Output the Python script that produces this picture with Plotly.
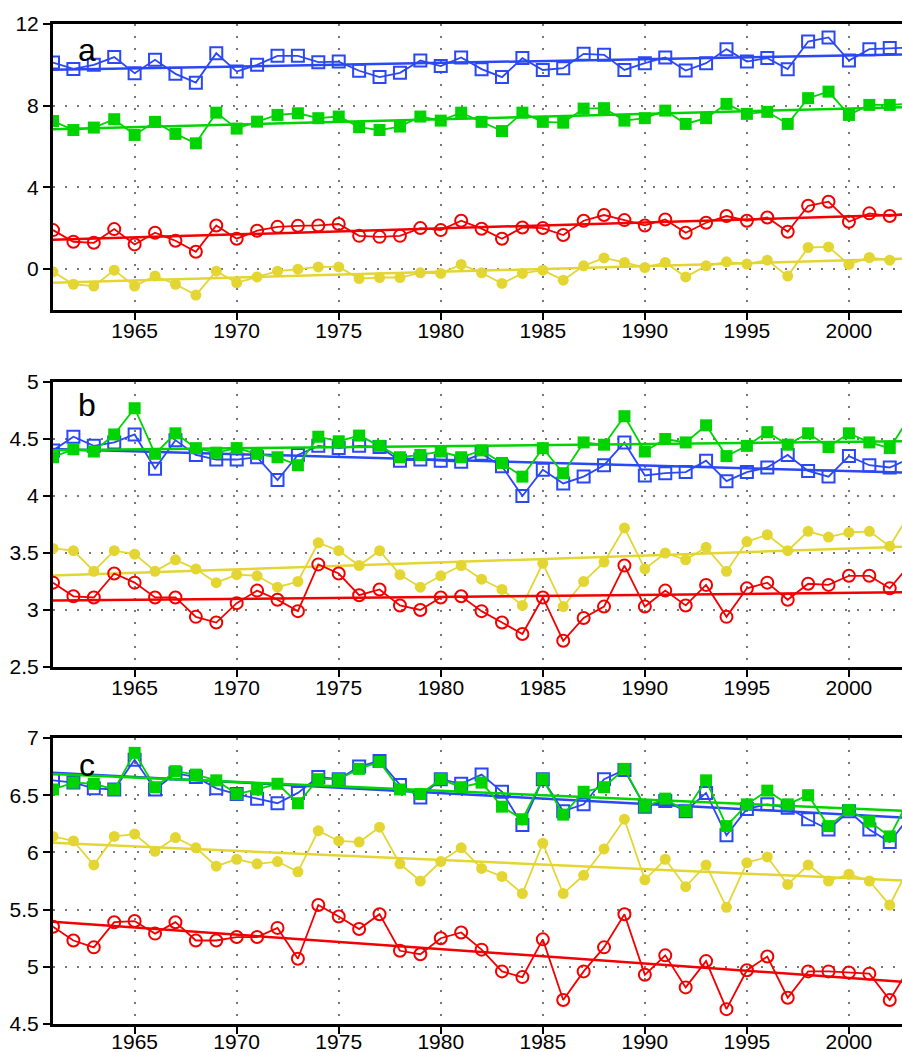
import numpy as np
import plotly.graph_objects as go

years = list(range(1961, 2004))

# Panel a
a_blue = [10.11, 9.80, 10.00, 10.38, 9.59, 10.25, 9.56, 9.13, 10.57, 9.67,
          10.00, 10.44, 10.44, 10.13, 10.16, 9.71, 9.40, 9.61, 10.21, 9.94,
          10.36, 9.79, 9.40, 10.33, 9.75, 9.84, 10.54, 10.49, 9.75, 10.08,
          10.36, 9.72, 10.08, 10.77, 10.16, 10.33, 9.79, 11.14, 11.34, 10.21,
          10.77, 10.82, 10.85]
a_green = [7.25, 6.81, 6.93, 7.34, 6.57, 7.21, 6.62, 6.16, 7.66, 6.88,
           7.22, 7.55, 7.63, 7.39, 7.47, 6.95, 6.81, 6.98, 7.47, 7.27,
           7.66, 7.21, 6.76, 7.66, 7.21, 7.17, 7.86, 7.88, 7.27, 7.39,
           7.76, 7.11, 7.39, 8.09, 7.60, 7.70, 7.11, 8.37, 8.69, 7.55,
           8.04, 8.04, 8.10]
a_red = [1.91, 1.34, 1.29, 1.96, 1.21, 1.78, 1.39, 0.85, 2.14, 1.49,
         1.88, 2.07, 2.12, 2.14, 2.21, 1.63, 1.58, 1.63, 2.01, 1.91,
         2.37, 1.98, 1.49, 2.04, 2.01, 1.67, 2.37, 2.65, 2.40, 2.14,
         2.43, 1.78, 2.27, 2.60, 2.37, 2.53, 1.83, 3.10, 3.30, 2.32,
         2.73, 2.60, 2.75]
a_yellow = [-0.13, -0.74, -0.83, -0.05, -0.83, -0.33, -0.74, -1.27, -0.10, -0.67,
            -0.38, -0.10, 0.00, 0.11, 0.11, -0.46, -0.41, -0.41, -0.18, -0.21,
            0.23, -0.18, -0.70, -0.21, -0.05, -0.54, 0.16, 0.55, 0.33, 0.08,
            0.33, -0.38, 0.16, 0.36, 0.25, 0.44, -0.34, 1.06, 1.09, 0.23,
            0.57, 0.44, 0.54]

# Panel b
b_blue = [4.40, 4.52, 4.44, 4.47, 4.54, 4.24, 4.49, 4.36, 4.32, 4.32,
          4.34, 4.14, 4.36, 4.44, 4.42, 4.44, 4.43, 4.31, 4.32, 4.31,
          4.30, 4.37, 4.26, 4.00, 4.23, 4.11, 4.17, 4.27, 4.47, 4.18,
          4.20, 4.21, 4.31, 4.13, 4.21, 4.25, 4.36, 4.22, 4.17, 4.35,
          4.27, 4.25, 4.33]
b_green = [4.34, 4.41, 4.39, 4.54, 4.77, 4.37, 4.55, 4.42, 4.38, 4.42,
           4.37, 4.34, 4.27, 4.52, 4.48, 4.53, 4.44, 4.34, 4.36, 4.39,
           4.34, 4.40, 4.29, 4.17, 4.42, 4.20, 4.47, 4.45, 4.70, 4.39,
           4.50, 4.47, 4.62, 4.35, 4.44, 4.56, 4.45, 4.55, 4.43, 4.55,
           4.47, 4.42, 4.70]
b_red = [3.24, 3.12, 3.11, 3.32, 3.24, 3.11, 3.11, 2.94, 2.89, 3.06,
         3.17, 3.09, 2.99, 3.40, 3.32, 3.13, 3.18, 3.04, 3.00, 3.11,
         3.12, 2.99, 2.89, 2.79, 3.11, 2.73, 2.93, 3.03, 3.39, 3.03,
         3.17, 3.04, 3.22, 2.94, 3.19, 3.24, 3.09, 3.23, 3.22, 3.30,
         3.30, 3.19, 3.40]
b_yellow = [3.54, 3.52, 3.34, 3.52, 3.49, 3.34, 3.44, 3.36, 3.24, 3.31,
            3.30, 3.20, 3.25, 3.59, 3.52, 3.39, 3.52, 3.31, 3.20, 3.30,
            3.39, 3.27, 3.18, 3.04, 3.41, 3.03, 3.25, 3.42, 3.72, 3.36,
            3.50, 3.44, 3.55, 3.34, 3.60, 3.66, 3.52, 3.69, 3.64, 3.68,
            3.69, 3.56, 3.85]

# Panel c
c_blue = [6.63, 6.61, 6.56, 6.55, 6.81, 6.55, 6.69, 6.66, 6.56, 6.51,
          6.47, 6.43, 6.52, 6.66, 6.64, 6.75, 6.80, 6.59, 6.48, 6.64,
          6.60, 6.68, 6.53, 6.24, 6.64, 6.36, 6.42, 6.64, 6.72, 6.40,
          6.45, 6.36, 6.52, 6.15, 6.38, 6.42, 6.39, 6.29, 6.20, 6.36,
          6.20, 6.09, 6.32]
c_green = [6.55, 6.61, 6.60, 6.55, 6.87, 6.57, 6.71, 6.68, 6.63, 6.51,
           6.55, 6.60, 6.43, 6.64, 6.64, 6.73, 6.79, 6.55, 6.51, 6.64,
           6.57, 6.61, 6.40, 6.29, 6.64, 6.33, 6.53, 6.57, 6.73, 6.40,
           6.47, 6.36, 6.63, 6.23, 6.42, 6.54, 6.42, 6.50, 6.23, 6.37,
           6.27, 6.14, 6.48]
c_red = [5.35, 5.23, 5.17, 5.39, 5.40, 5.29, 5.39, 5.23, 5.23, 5.26,
         5.26, 5.34, 5.07, 5.54, 5.44, 5.33, 5.46, 5.14, 5.11, 5.25,
         5.30, 5.15, 4.96, 4.91, 5.24, 4.71, 4.96, 5.17, 5.46, 4.93,
         5.10, 4.82, 5.05, 4.63, 4.97, 5.09, 4.73, 4.96, 4.96, 4.95,
         4.94, 4.71, 5.00]
c_yellow = [6.14, 6.10, 5.89, 6.14, 6.16, 6.01, 6.13, 6.04, 5.88, 5.94,
            5.90, 5.92, 5.83, 6.19, 6.10, 6.09, 6.22, 5.90, 5.75, 5.92,
            6.04, 5.86, 5.79, 5.64, 6.08, 5.64, 5.80, 6.03, 6.29, 5.76,
            5.94, 5.70, 5.89, 5.52, 5.91, 5.96, 5.72, 5.89, 5.75, 5.81,
            5.75, 5.54, 5.89]

panel_labels = ["a", "b", "c"]
y_ranges = [[-2, 12], [2.5, 5], [4.5, 7]]
y_dticks = [4, 0.5, 0.5]
x_range = [1961, 2002.6]
x_ticks = [1965, 1970, 1975, 1980, 1985, 1990, 1995, 2000]

BLUE = "rgb(42,72,245)"
GREEN = "rgb(0,212,0)"
RED = "rgb(242,0,0)"
YELLOW = "rgb(228,214,50)"

W, H = 902, 1052
left_px = 53
panel_px = [(24, 310), (382, 667), (738, 1024)]
label_standoff = [-7, -7, -10]

panels = [
    [(a_yellow, YELLOW, "circle", 11, None), (a_red, RED, "circle-open", 12, 2),
     (a_blue, BLUE, "square-open", 12, 2), (a_green, GREEN, "square", 12, None)],
    [(b_yellow, YELLOW, "circle", 11, None), (b_red, RED, "circle-open", 12, 2),
     (b_blue, BLUE, "square-open", 12, 2), (b_green, GREEN, "square", 12, None)],
    [(c_yellow, YELLOW, "circle", 11, None), (c_red, RED, "circle-open", 12, 2),
     (c_blue, BLUE, "square-open", 12, 2), (c_green, GREEN, "square", 12, None)],
]

fig = go.Figure()
font = dict(family="Liberation Sans, Arial, sans-serif", size=21, color="black")
yrs = np.array(years, dtype=float)

for i, series in enumerate(panels):
    xa = "x" if i == 0 else f"x{i+1}"
    ya = "y" if i == 0 else f"y{i+1}"
    for vals, col, sym, size, lw in series:
        v = np.array(vals, dtype=float)
        k, b0 = np.polyfit(yrs, v, 1)
        tx = [years[0], years[-1]]
        fig.add_trace(go.Scatter(
            x=tx, y=[k * t + b0 for t in tx], mode="lines",
            line=dict(color=col, width=2.5), xaxis=xa, yaxis=ya,
            showlegend=False, hoverinfo="skip"))
        mk = dict(symbol=sym, size=size, color=col)
        if lw:
            mk["line"] = dict(color=col, width=lw)
        fig.add_trace(go.Scatter(
            x=years, y=vals, mode="lines+markers",
            line=dict(color=col, width=1.8), marker=mk,
            xaxis=xa, yaxis=ya, showlegend=False))

layout = dict(
    width=W, height=H,
    margin=dict(l=0, r=0, t=0, b=0, autoexpand=False),
    paper_bgcolor="white", plot_bgcolor="white", showlegend=False,
    font=font,
)
annotations = []
for i in range(3):
    top, bot = panel_px[i]
    xk = "xaxis" if i == 0 else f"xaxis{i+1}"
    yk = "yaxis" if i == 0 else f"yaxis{i+1}"
    ya = "y" if i == 0 else f"y{i+1}"
    xa = "x" if i == 0 else f"x{i+1}"
    layout[xk] = dict(
        domain=[left_px / W, 1.0], range=x_range, anchor=ya,
        tickmode="array", tickvals=x_ticks, ticks="outside", ticklen=7,
        tickwidth=1.5, tickcolor="black", ticklabelstandoff=label_standoff[i],
        showline=True, linecolor="black", linewidth=3, mirror=True,
        showgrid=True, gridcolor="rgb(120,120,120)", gridwidth=1.5,
        griddash="2px,10px", zeroline=False, tickfont=font, automargin=False)
    layout[yk] = dict(
        domain=[1 - bot / H, 1 - top / H], range=y_ranges[i], anchor=xa,
        tick0=0, dtick=y_dticks[i], ticks="outside", ticklen=7,
        tickwidth=1.5, tickcolor="black",
        showline=True, linecolor="black", linewidth=3,
        showgrid=True, gridcolor="rgb(120,120,120)", gridwidth=1.5,
        griddash="2px,10px", zeroline=False, tickfont=font, automargin=False)
    annotations.append(dict(
        text=panel_labels[i], xref=f"{xa} domain", yref=f"{ya} domain",
        x=0.04, y=[0.909, 0.919, 0.906][i], xanchor="center", yanchor="middle",
        showarrow=False, font=dict(family="Liberation Sans, Arial", size=32, color="black")))
layout["annotations"] = annotations
fig.update_layout(**layout)
fig.write_html("out.html")
